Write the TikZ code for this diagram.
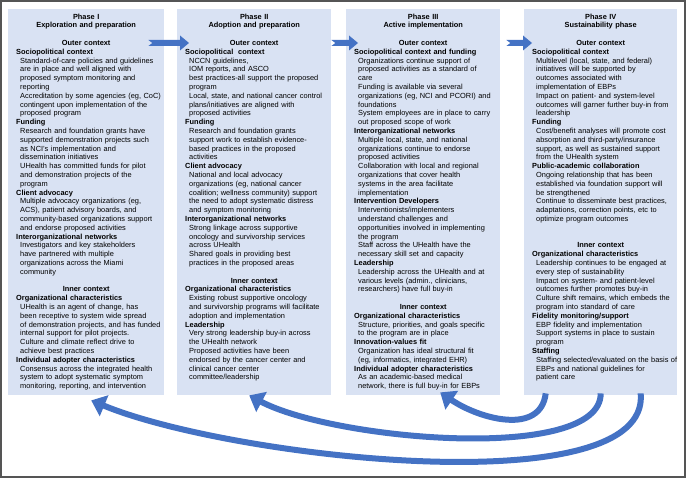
\documentclass[tikz,border=0pt]{standalone}
\usepackage{fontspec}
\newfontfamily\panelfont{Liberation Sans}
\usetikzlibrary{positioning}
\usetikzlibrary{calc}
\usetikzlibrary{arrows.meta}
\definecolor{panelblue}{HTML}{D9E2F3}
\definecolor{flowblue}{HTML}{4472C4}
\definecolor{framegray}{HTML}{555555}

\newcommand{\phase}[2]{{\centering\bfseries #1\\#2\par}}
\newcommand{\ctx}[1]{{\centering\bfseries #1\par}}
\newcommand{\hd}[1]{{\leftskip=4bp\bfseries #1\par}}
\newcommand{\bd}[1]{{\leftskip=8bp #1\par}}
\newcommand{\gap}{\vspace{8.8bp}}
\newcommand{\phasearrow}[2]{%
  \fill[flowblue] ($(#1)+(0,-3)$) -- ($(#2)+(-9,-3)$) -- ($(#2)+(-9,-7.5)$) -- (#2)
    -- ($(#2)+(-9,7.5)$) -- ($(#2)+(-9,3)$) -- ($(#1)+(0,3)$) -- ($(#1)+(4,0)$) -- cycle;}

\begin{document}
\begin{tikzpicture}[
            x=1bp, y=-1bp,
            panel/.style={fill=panelblue, anchor=north west, inner sep=0pt, minimum height=386bp},
            paneltext/.style={anchor=north west, inner xsep=4bp, inner ysep=4.5bp, align=left,
                font=\panelfont\fontsize{7.4bp}{8.8bp}\selectfont,
                execute at begin node={\parindent=0pt\rightskip=0pt plus 1fil minus 30bp}},
            loopback/.style={flowblue, line width=6bp, -{Triangle[length=14bp, width=22bp]}}
        ]
            \useasboundingbox (0,0) rectangle (686,478);
            \draw[framegray, line width=1.6bp] (1,1) rectangle (685,477);

            \node[panel, minimum width=156bp] (p1) at (8,9) {};
            \node[panel, minimum width=154bp] (p2) at (177,9) {};
            \node[panel, minimum width=154bp] (p3) at (346,9) {};
            \node[panel, minimum width=153bp] (p4) at (524,9) {};

            \node[paneltext, text width=148bp] (t1) at (p1.north west) {%
                \phase{Phase I}{Exploration and preparation}\gap
                \ctx{Outer context}
                \hd{Sociopolitical context}
                \bd{Standard-of-care policies and guidelines\\are in place and well aligned with\\proposed symptom monitoring and\\reporting\\Accreditation by some agencies (eg, CoC)\\contingent upon implementation of the\\proposed program}
                \hd{Funding}
                \bd{Research and foundation grants have\\supported demonstration projects such\\as NCI’s implementation and\\dissemination initiatives\\UHealth has committed funds for pilot\\and demonstration projects of the\\program}
                \hd{Client advocacy}
                \bd{Multiple advocacy organizations (eg,\\ACS), patient advisory boards, and\\community-based organizations support\\and endorse proposed activities}
                \hd{Interorganizational networks}
                \bd{Investigators and key stakeholders\\have partnered with multiple\\organizations across the Miami\\community}\gap
                \ctx{Inner context}
                \hd{Organizational characteristics}
                \bd{UHealth is an agent of change, has\\been receptive to system wide spread\\of demonstration projects, and has funded\\internal support for pilot projects.\\Culture and climate reflect drive to\\achieve best practices}
                \hd{Individual adopter characteristics}
                \bd{Consensus across the integrated health\\system to adopt systematic symptom\\monitoring, reporting, and intervention}};

            \node[paneltext, text width=146bp] (t2) at (p2.north west) {%
                \phase{Phase II}{Adoption and preparation}\gap
                \ctx{Outer context}
                \hd{Sociopolitical~~context}
                \bd{NCCN guidelines,\\IOM reports, and ASCO\\best practices-all support the proposed\\program\\Local, state, and national cancer control\\plans/initiatives are aligned with\\proposed activities}
                \hd{Funding}
                \bd{Research and foundation grants\\support work to establish evidence-\\based practices in the proposed\\activities}
                \hd{Client advocacy}
                \bd{National and local advocacy\\organizations (eg, national cancer\\coalition; wellness community) support\\the need to adopt systematic distress\\and symptom monitoring}
                \hd{Interorganizational networks}
                \bd{Strong linkage across supportive\\oncology and survivorship services\\across UHealth\\Shared goals in providing best\\practices in the proposed areas}\gap
                \ctx{Inner context}
                \hd{Organizational characteristics}
                \bd{Existing robust supportive oncology\\and survivorship programs will facilitate\\adoption and implementation}
                \hd{Leadership}
                \bd{Very strong leadership buy-in across\\the UHealth network\\Proposed activities have been\\endorsed by the cancer center and\\clinical cancer center\\committee/leadership}};

            \node[paneltext, text width=146bp] (t3) at (p3.north west) {%
                \phase{Phase III}{Active implementation}\gap
                \ctx{Outer context}
                \hd{Sociopolitical context and funding}
                \bd{Organizations continue support of\\proposed activities as a standard of\\care\\Funding is available via several\\organizations (eg, NCI and PCORI) and\\foundations\\System employees are in place to carry\\out proposed scope of work}
                \hd{Interorganizational networks}
                \bd{Multiple local, state, and national\\organizations continue to endorse\\proposed activities\\Collaboration with local and regional\\organizations that cover health\\systems in the area facilitate\\implementation}
                \hd{Intervention Developers}
                \bd{Interventionists/implementers\\understand challenges and\\opportunities involved in implementing\\the program\\Staff across the UHealth have the\\necessary skill set and capacity}
                \hd{Leadership}
                \bd{Leadership across the UHealth and at\\various levels (admin., clinicians,\\researchers) have full buy-in}\gap
                \ctx{Inner context}
                \hd{Organizational characteristics}
                \bd{Structure, priorities, and goals specific\\to the program are in place}
                \hd{Innovation-values fit}
                \bd{Organization has ideal structural fit\\(eg, informatics, integrated EHR)}
                \hd{Individual adopter characteristics}
                \bd{As an academic-based medical\\network, there is full buy-in for EBPs}};

            \node[paneltext, text width=145bp] (t4) at (p4.north west) {%
                \phase{Phase IV}{Sustainability phase}\gap
                \ctx{Outer context}
                \hd{Sociopolitical context}
                \bd{Multilevel (local, state, and federal)\\initiatives will be supported by\\outcomes associated with\\implementation of EBPs\\Impact on patient- and system-level\\outcomes will garner further buy-in from\\leadership}
                \hd{Funding}
                \bd{Cost/benefit analyses will promote cost\\absorption and third-party/insurance\\support, as well as sustained support\\from the UHealth system}
                \hd{Public-academic collaboration}
                \bd{Ongoing relationship that has been\\established via foundation support will\\be strengthened\\Continue to disseminate best practices,\\adaptations, correction points, etc to\\optimize program outcomes}\gap\gap
                \ctx{Inner context}
                \hd{Organizational characteristics}
                \bd{Leadership continues to be engaged at\\every step of sustainability\\Impact on system- and patient-level\\outcomes further promotes buy-in\\Culture shift remains, which embeds the\\program into standard of care}
                \hd{Fidelity monitoring/support}
                \bd{EBP fidelity and implementation\\Support systems in place to sustain\\program}
                \hd{Staffing}
                \bd{Staffing selected/evaluated on the basis of\\EBPs and national guidelines for\\patient care}};

            % arrows between phases
            \coordinate (a1s) at ($(p1.north east)+(-16,34)$);
            \coordinate (a1e) at ($(p2.north west)+(12,34)$);
            \coordinate (a2s) at ($(p2.north east)+(0,34)$);
            \coordinate (a2e) at ($(p3.north west)+(12,34)$);
            \coordinate (a3s) at ($(p3.north east)+(6,34)$);
            \coordinate (a3e) at ($(p4.north west)+(8,34)$);
            \phasearrow{a1s}{a1e}
            \phasearrow{a2s}{a2e}
            \phasearrow{a3s}{a3e}

            % feedback from phase IV
            \draw[loopback] ($(p4.south)+(40,-2)$) .. controls +(10,112) and +(140,58) .. ($(p1.south)+(5,5)$);
            \draw[loopback] ($(p4.south)+(0,-2)$) .. controls +(0,70) and +(85,45) .. ($(p2.south)+(-5,0)$);
            \draw[loopback] ($(p4.south)+(-55,-2)$) .. controls +(-5,42) and +(40,27) .. ($(p3.south)+(17,-3)$);
        \end{tikzpicture}
\end{document}
